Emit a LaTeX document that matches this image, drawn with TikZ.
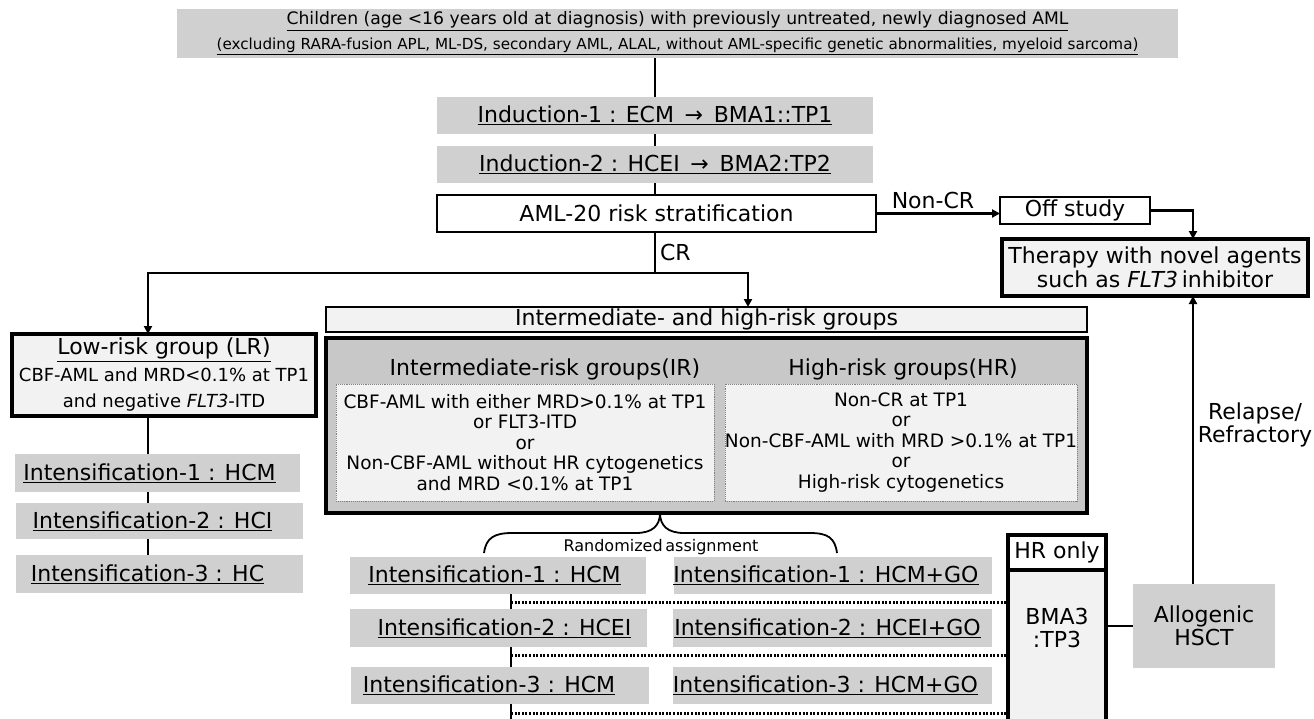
\documentclass[tikz,border=0pt]{standalone}
\usepackage{fontspec}
\setmainfont{DejaVu Sans}
\usetikzlibrary{arrows.meta}
\definecolor{boxgray}{HTML}{D0D0D0}
\definecolor{biggray}{HTML}{C8C8C8}
\definecolor{lightgray2}{HTML}{F2F2F2}
\newcommand\rbox[7]{\node[#6,minimum width={(#4-#2)*1pt},minimum height={(#5-#3)*1pt}] (#1) at ({(#2+#4)/2},{(#3+#5)/2}) {#7};}
\begin{document}
\begin{tikzpicture}[x=1pt,y=-1pt,
  every node/.style={inner sep=0pt,outer sep=0pt},
  main/.style={font=\fontsize{22}{26}\selectfont},
  gbox/.style={fill=boxgray,draw=none,main},
  wbox/.style={fill=white,draw=black,line width=2.4pt,main},
  lbox/.style={fill=lightgray2,draw=black,line width=3.2pt,main},
  dbox/.style={fill=lightgray2,draw=gray,densely dotted,line width=0.9pt,align=center,font=\fontsize{18.5}{20.5}\selectfont},
  conn/.style={line width=2.6pt},
  arr/.style={line width=2.6pt,-{Triangle[length=8pt,width=8pt]}},
  dots/.style={line width=3pt,dash pattern=on 2pt off 1.6pt},
]
\useasboundingbox (0,0) rectangle (1314,718);
% banner
\rbox{banner}{177}{9}{1178}{58}{gbox,align=center}{{\fontsize{17.2}{21}\selectfont\underline{Children (age <16 years old at diagnosis) with previously untreated, newly diagnosed AML}}\\[-1pt]{\fontsize{15.2}{17}\selectfont\underline{(excluding RARA-fusion APL, ML-DS, secondary AML, ALAL, without AML-specific genetic abnormalities, myeloid sarcoma)}}}
% induction
\rbox{ind1}{437}{97}{873}{134}{gbox}{\underline{Induction-1 : ECM \,→\, BMA1::TP1}}
\rbox{ind2}{437}{146}{873}{183}{gbox}{\underline{Induction-2 : HCEI \,→\, BMA2:TP2}}
\rbox{aml}{437}{195}{876}{232}{wbox}{AML-20 risk stratification}
\draw[conn] (ind1.north |- banner.south) -- (ind1.north);
\draw[conn] (ind1.south) -- (ind2.north);
\draw[conn] (ind2.south) -- (ind2.south |- aml.north);
% off study / therapy
\rbox{off}{1000}{197}{1150}{224}{wbox}{Off study}
\rbox{therapy}{1002}{239}{1308}{296}{lbox,align=center}{Therapy with novel agents\\[-2pt]such as \textit{FLT3}\,inhibitor}
\coordinate (ax) at (1193,0);
\draw[arr] (aml.east) -- (aml.east -| off.west);
\node[main] (noncr) at (933,200) {Non-CR};
\draw[arr] (off.east) -| (therapy.north -| ax);
% CR split
\coordinate (split) at (655,273);
\coordinate (lx) at (148,0);
\coordinate (mx) at (748,0);
\draw[conn] (split |- aml.south) -- (split) node[pos=0.5,right=5pt,main] {CR};
% low risk
\rbox{lr}{12}{334}{316}{416}{lbox,align=center}{\underline{Low-risk group (LR)}\\[1pt]{\fontsize{18}{24}\selectfont CBF-AML and MRD<0.1\% at TP1}\\{\fontsize{18}{24}\selectfont and negative \textit{FLT3}-ITD}}
\rbox{li1}{15}{454}{300}{492}{gbox}{\hspace*{-16pt}\underline{Intensification-1 : HCM}}
\rbox{li2}{16}{503}{303}{539}{gbox}{\hspace*{-14pt}\underline{Intensification-2 : HCI}}
\rbox{li3}{16}{555}{303}{593}{gbox}{\hspace*{-24pt}\underline{Intensification-3 : HC}}
\draw[arr] (split) -| (lr.north -| lx);
\draw[conn] (lr.south -| lx) -- (li1.north -| lx);
\draw[conn] (li1.south -| lx) -- (li2.north -| lx);
\draw[conn] (li2.south -| lx) -- (li3.north -| lx);
% intermediate & high
\rbox{ih}{326}{307}{1087}{332}{lbox,line width=2.8pt}{Intermediate- and high-risk groups}
\draw[arr] (split) -| (ih.north -| mx);
\rbox{big}{326}{338}{1087}{513}{fill=biggray,draw=black,line width=4.5pt}{}
\node[main] (irt) at (545,369) {Intermediate-risk groups(IR)};
\node[main] (hrt) at (903,369) {High-risk groups(HR)};
\rbox{irb}{336}{384}{714}{501}{dbox}{CBF-AML with either MRD>0.1\% at TP1\\or FLT3-ITD\\or\\Non-CBF-AML without HR cytogenetics\\and MRD <0.1\% at TP1}
\rbox{hrb}{725}{384}{1077}{501}{dbox}{Non-CR at TP1\\or\\Non-CBF-AML with MRD >0.1\% at TP1\\or\\High-risk cytogenetics}
% brace
\coordinate (btip) at (660,513);
\draw[line width=1.8pt] (484,553) .. controls (486,538) and (494,533) .. (512,533) -- (636,533) .. controls (652,533) and (660,526) .. (btip) .. controls (660,526) and (668,533) .. (684,533) -- (810,533) .. controls (828,533) and (835,538) .. (837,553);
\node[font=\fontsize{16}{18}\selectfont] (rand) at (661,547) {Randomized\,assignment};
% randomized intensification
\rbox{r1l}{350}{557}{646}{594}{gbox}{\hspace*{-7pt}\underline{Intensification-1 : HCM}}
\rbox{r2l}{350}{609}{647}{647}{gbox}{\hspace*{12pt}\underline{Intensification-2 : HCEI}}
\rbox{r3l}{351}{667}{649}{704}{gbox}{\hspace*{-22pt}\underline{Intensification-3 : HCM}}
\rbox{r1r}{674}{557}{992}{594}{gbox}{\hspace*{-14pt}\underline{Intensification-1 : HCM+GO}}
\rbox{r2r}{673}{609}{992}{647}{gbox}{\hspace*{-10pt}\underline{Intensification-2 : HCEI+GO}}
\rbox{r3r}{673}{667}{992}{704}{gbox}{\hspace*{-14pt}\underline{Intensification-3 : HCM+GO}}
\coordinate (rx) at (511,0);
\coordinate (bot) at (0,720);
\draw[conn] (r1l.south -| rx) -- (r2l.north -| rx);
\draw[conn] (r2l.south -| rx) -- (r3l.north -| rx);
\draw[conn] (r3l.south -| rx) -- (rx |- bot);
% HR only
\rbox{hrh}{1008}{535}{1106}{570}{wbox,line width=3.2pt}{HR only}
\rbox{hrbody}{1008}{570}{1106}{735}{lbox}{}
\node[main,align=center] (bma) at (1057,628) {BMA3\\[-3pt]:TP3};
\coordinate (d1) at (511,602);
\coordinate (d2) at (511,655);
\coordinate (d3) at (511,713);
\draw[dots] (d1) -- (d1 -| hrbody.west);
\draw[dots] (d2) -- (d2 -| hrbody.west);
\draw[dots] (d3) -- (d3 -| hrbody.west);
% HSCT
\rbox{hsct}{1133}{584}{1275}{668}{gbox,align=center}{Allogenic\\[-3pt]HSCT}
\draw[conn] (hrbody.east |- hsct.west) -- (hsct.west);
\draw[arr] (hsct.north -| ax) -- (therapy.south -| ax);
\node[main,align=center] (rel) at (1255,425) {Relapse/\\[-3pt]Refractory};
\end{tikzpicture}
\end{document}
